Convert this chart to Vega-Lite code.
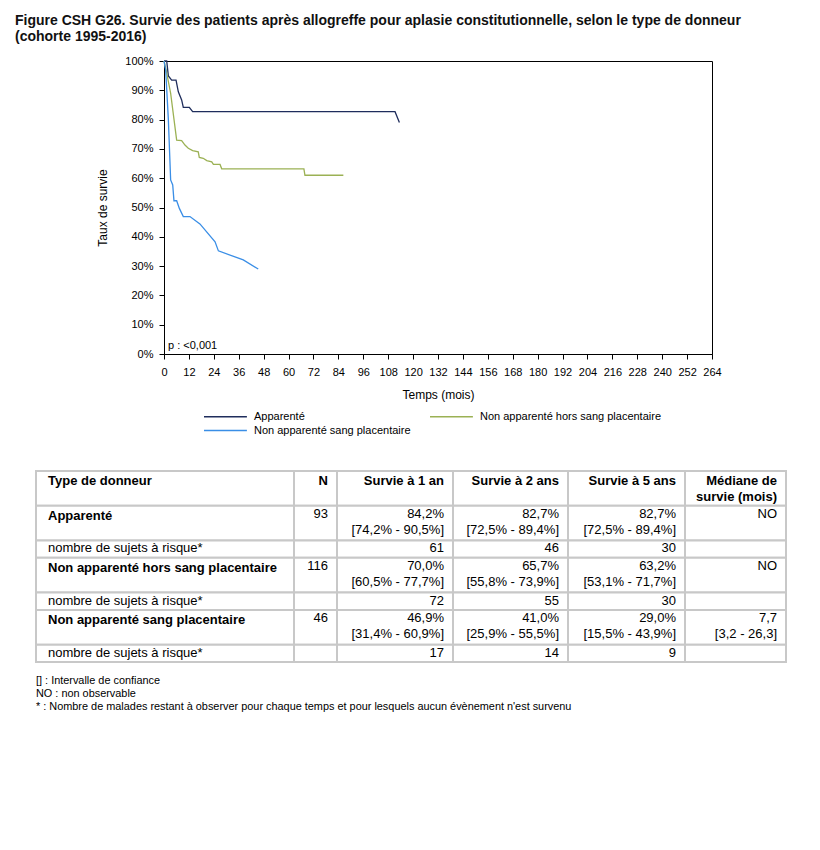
{
  "$schema": "https://vega.github.io/schema/vega-lite/v6.json",
  "padding": {"left": 15, "top": 13, "right": 5, "bottom": 5},
  "background": "white",
  "title": {
    "text": ["Figure CSH G26. Survie des patients après allogreffe pour aplasie constitutionnelle, selon le type de donneur", "(cohorte 1995-2016)"],
    "anchor": "start", "dx": -20, "fontSize": 14, "fontWeight": "bold", "color": "#111", "offset": 11, "lineHeight": 16, "font": "Liberation Sans"
  },
  "config": {
    "view": {"stroke": null},
    "font": "Liberation Sans",
    "axis": {"domainColor": "#000", "tickColor": "#000", "labelColor": "#000", "titleColor": "#000", "labelFontSize": 11, "titleFontSize": 12, "titleFontWeight": "normal", "grid": false, "tickSize": 5}
  },
  "datasets": {
    "km": [
      {"groupe": "Apparenté", "t": 0, "s": 1},
      {"groupe": "Apparenté", "t": 1.3, "s": 1},
      {"groupe": "Apparenté", "t": 2.1, "s": 0.949},
      {"groupe": "Apparenté", "t": 3.7, "s": 0.935},
      {"groupe": "Apparenté", "t": 5.8, "s": 0.935},
      {"groupe": "Apparenté", "t": 6.9, "s": 0.895},
      {"groupe": "Apparenté", "t": 8.5, "s": 0.867},
      {"groupe": "Apparenté", "t": 9.3, "s": 0.842},
      {"groupe": "Apparenté", "t": 12.2, "s": 0.842},
      {"groupe": "Apparenté", "t": 13.8, "s": 0.827},
      {"groupe": "Apparenté", "t": 111.3, "s": 0.827},
      {"groupe": "Apparenté", "t": 113.4, "s": 0.79},
      {"groupe": "Non apparenté hors sang placentaire", "t": 0, "s": 1},
      {"groupe": "Non apparenté hors sang placentaire", "t": 1, "s": 0.97},
      {"groupe": "Non apparenté hors sang placentaire", "t": 3.2, "s": 0.89},
      {"groupe": "Non apparenté hors sang placentaire", "t": 6.1, "s": 0.73},
      {"groupe": "Non apparenté hors sang placentaire", "t": 8.5, "s": 0.728},
      {"groupe": "Non apparenté hors sang placentaire", "t": 10.1, "s": 0.713},
      {"groupe": "Non apparenté hors sang placentaire", "t": 11.7, "s": 0.702},
      {"groupe": "Non apparenté hors sang placentaire", "t": 13.8, "s": 0.694},
      {"groupe": "Non apparenté hors sang placentaire", "t": 16.5, "s": 0.69},
      {"groupe": "Non apparenté hors sang placentaire", "t": 17, "s": 0.671},
      {"groupe": "Non apparenté hors sang placentaire", "t": 18.9, "s": 0.668},
      {"groupe": "Non apparenté hors sang placentaire", "t": 20.6, "s": 0.66},
      {"groupe": "Non apparenté hors sang placentaire", "t": 23, "s": 0.656},
      {"groupe": "Non apparenté hors sang placentaire", "t": 23.8, "s": 0.647},
      {"groupe": "Non apparenté hors sang placentaire", "t": 27, "s": 0.647},
      {"groupe": "Non apparenté hors sang placentaire", "t": 27.8, "s": 0.632},
      {"groupe": "Non apparenté hors sang placentaire", "t": 67.4, "s": 0.632},
      {"groupe": "Non apparenté hors sang placentaire", "t": 67.9, "s": 0.61},
      {"groupe": "Non apparenté hors sang placentaire", "t": 86.4, "s": 0.61},
      {"groupe": "Non apparenté sang placentaire", "t": 0, "s": 1},
      {"groupe": "Non apparenté sang placentaire", "t": 0.8, "s": 0.97},
      {"groupe": "Non apparenté sang placentaire", "t": 2.1, "s": 0.8},
      {"groupe": "Non apparenté sang placentaire", "t": 3.2, "s": 0.594},
      {"groupe": "Non apparenté sang placentaire", "t": 4.2, "s": 0.577},
      {"groupe": "Non apparenté sang placentaire", "t": 4.8, "s": 0.523},
      {"groupe": "Non apparenté sang placentaire", "t": 6.1, "s": 0.523},
      {"groupe": "Non apparenté sang placentaire", "t": 7.4, "s": 0.497},
      {"groupe": "Non apparenté sang placentaire", "t": 9.3, "s": 0.469},
      {"groupe": "Non apparenté sang placentaire", "t": 12.5, "s": 0.469},
      {"groupe": "Non apparenté sang placentaire", "t": 17.3, "s": 0.444},
      {"groupe": "Non apparenté sang placentaire", "t": 24.6, "s": 0.383},
      {"groupe": "Non apparenté sang placentaire", "t": 26.2, "s": 0.352},
      {"groupe": "Non apparenté sang placentaire", "t": 38.2, "s": 0.321},
      {"groupe": "Non apparenté sang placentaire", "t": 45.4, "s": 0.29}
    ],
    "table": [
      {"col": "type", "top": 0, "bottom": 2, "kind": "header", "text": "Type de donneur"},
      {"col": "n", "top": 0, "bottom": 2, "kind": "header", "text": "N"},
      {"col": "s1", "top": 0, "bottom": 2, "kind": "header", "text": "Survie à 1 an"},
      {"col": "s2", "top": 0, "bottom": 2, "kind": "header", "text": "Survie à 2 ans"},
      {"col": "s5", "top": 0, "bottom": 2, "kind": "header", "text": "Survie à 5 ans"},
      {"col": "med", "top": 0, "bottom": 2, "kind": "header", "text": "Médiane de\nsurvie (mois)"},
      {"col": "type", "top": 2, "bottom": 4, "kind": "group", "text": "Apparenté"},
      {"col": "n", "top": 2, "bottom": 4, "kind": "group", "text": "93"},
      {"col": "s1", "top": 2, "bottom": 4, "kind": "group", "text": "84,2%\n[74,2% - 90,5%]"},
      {"col": "s2", "top": 2, "bottom": 4, "kind": "group", "text": "82,7%\n[72,5% - 89,4%]"},
      {"col": "s5", "top": 2, "bottom": 4, "kind": "group", "text": "82,7%\n[72,5% - 89,4%]"},
      {"col": "med", "top": 2, "bottom": 4, "kind": "group", "text": "NO"},
      {"col": "type", "top": 4, "bottom": 5, "kind": "risk", "text": "nombre de sujets à risque*"},
      {"col": "n", "top": 4, "bottom": 5, "kind": "risk", "text": ""},
      {"col": "s1", "top": 4, "bottom": 5, "kind": "risk", "text": "61"},
      {"col": "s2", "top": 4, "bottom": 5, "kind": "risk", "text": "46"},
      {"col": "s5", "top": 4, "bottom": 5, "kind": "risk", "text": "30"},
      {"col": "med", "top": 4, "bottom": 5, "kind": "risk", "text": ""},
      {"col": "type", "top": 5, "bottom": 7, "kind": "group", "text": "Non apparenté hors sang placentaire"},
      {"col": "n", "top": 5, "bottom": 7, "kind": "group", "text": "116"},
      {"col": "s1", "top": 5, "bottom": 7, "kind": "group", "text": "70,0%\n[60,5% - 77,7%]"},
      {"col": "s2", "top": 5, "bottom": 7, "kind": "group", "text": "65,7%\n[55,8% - 73,9%]"},
      {"col": "s5", "top": 5, "bottom": 7, "kind": "group", "text": "63,2%\n[53,1% - 71,7%]"},
      {"col": "med", "top": 5, "bottom": 7, "kind": "group", "text": "NO"},
      {"col": "type", "top": 7, "bottom": 8, "kind": "risk", "text": "nombre de sujets à risque*"},
      {"col": "n", "top": 7, "bottom": 8, "kind": "risk", "text": ""},
      {"col": "s1", "top": 7, "bottom": 8, "kind": "risk", "text": "72"},
      {"col": "s2", "top": 7, "bottom": 8, "kind": "risk", "text": "55"},
      {"col": "s5", "top": 7, "bottom": 8, "kind": "risk", "text": "30"},
      {"col": "med", "top": 7, "bottom": 8, "kind": "risk", "text": ""},
      {"col": "type", "top": 8, "bottom": 10, "kind": "group", "text": "Non apparenté sang placentaire"},
      {"col": "n", "top": 8, "bottom": 10, "kind": "group", "text": "46"},
      {"col": "s1", "top": 8, "bottom": 10, "kind": "group", "text": "46,9%\n[31,4% - 60,9%]"},
      {"col": "s2", "top": 8, "bottom": 10, "kind": "group", "text": "41,0%\n[25,9% - 55,5%]"},
      {"col": "s5", "top": 8, "bottom": 10, "kind": "group", "text": "29,0%\n[15,5% - 43,9%]"},
      {"col": "med", "top": 8, "bottom": 10, "kind": "group", "text": "7,7\n[3,2 - 26,3]"},
      {"col": "type", "top": 10, "bottom": 11, "kind": "risk", "text": "nombre de sujets à risque*"},
      {"col": "n", "top": 10, "bottom": 11, "kind": "risk", "text": ""},
      {"col": "s1", "top": 10, "bottom": 11, "kind": "risk", "text": "17"},
      {"col": "s2", "top": 10, "bottom": 11, "kind": "risk", "text": "14"},
      {"col": "s5", "top": 10, "bottom": 11, "kind": "risk", "text": "9"},
      {"col": "med", "top": 10, "bottom": 11, "kind": "risk", "text": ""}
    ],
    "notes": [
      {"line": 1, "text": "[] : Intervalle de confiance"},
      {"line": 2, "text": "NO : non observable"},
      {"line": 3, "text": "* : Nombre de malades restant à observer pour chaque temps et pour lesquels aucun évènement n'est survenu"}
    ]
  },
  "spacing": 69,
  "vconcat": [
    {
      "spacing": 0,
      "hconcat": [
        {"width": 60, "height": 10, "data": {"values": []}, "mark": "point"},
        {
          "width": 548,
          "height": 293,
          "view": {"stroke": "#000", "strokeWidth": 1},
          "layer": [
            {
              "data": {"name": "km"},
              "mark": {"type": "line", "strokeWidth": 1.3},
              "encoding": {
                "x": {"field": "t", "type": "quantitative", "scale": {"domain": [0, 264], "nice": false},
                  "axis": {"values": [0,12,24,36,48,60,72,84,96,108,120,132,144,156,168,180,192,204,216,228,240,252,264], "title": "Temps (mois)", "labelPadding": 7, "titlePadding": 12, "labelFlush": false, "labelOverlap": false}},
                "y": {"field": "s", "type": "quantitative", "scale": {"domain": [0, 1], "nice": false},
                  "axis": {"values": [0,0.1,0.2,0.3,0.4,0.5,0.6,0.7,0.8,0.9,1], "format": ".0%", "title": "Taux de survie", "labelPadding": 6, "titlePadding": 15, "labelFlush": false}},
                "color": {"field": "groupe", "type": "nominal",
                  "scale": {"domain": ["Apparenté", "Non apparenté hors sang placentaire", "Non apparenté sang placentaire"], "range": ["#1f2d5c", "#9bb154", "#3a8ee6"]},
                  "legend": {"title": null, "orient": "none", "legendX": 167, "legendY": 349, "direction": "horizontal", "columns": 2, "columnPadding": 16, "rowPadding": 2, "symbolType": "M-1,0H6.8", "symbolSize": 121, "symbolStrokeWidth": 1.5, "labelFontSize": 11, "labelColor": "#000", "labelOffset": 38, "labelLimit": 300}}
              }
            },
            {
              "data": {"values": [{"label": "p : <0,001"}]},
              "mark": {"type": "text", "align": "left", "baseline": "bottom", "fontSize": 11, "color": "#000", "dx": 4, "dy": -3},
              "encoding": {"text": {"field": "label"}, "x": {"value": 0}, "y": {"value": "height"}}
            }
          ]
        }
      ]
    },
    {
      "spacing": 11,
      "vconcat": [
        {
          "spacing": 0,
          "bounds": "flush",
          "data": {"name": "table"},
          "hconcat": [
            {
              "width": 258, "height": 191,
              "transform": [{"filter": "datum.col == 'type'"}],
              "encoding": {"y": {"field": "top", "type": "quantitative", "scale": {"domain": [0, 11], "reverse": true, "nice": false}, "axis": null}},
              "layer": [
                {"mark": {"type": "rect", "fill": "white", "stroke": "#c8c8c8", "strokeWidth": 2}, "encoding": {"y2": {"field": "bottom"}, "x": {"value": 0}, "x2": {"value": "width"}}},
                {"transform": [{"filter": "datum.kind != 'risk'"}], "mark": {"type": "text", "align": "left", "baseline": "top", "dy": 4, "fontSize": 13, "fontWeight": "bold", "lineBreak": "\n", "lineHeight": 16, "color": "#000"}, "encoding": {"x": {"value": 12}, "text": {"field": "text"}}},
                {"transform": [{"filter": "datum.kind == 'risk'"}], "mark": {"type": "text", "align": "left", "baseline": "top", "dy": 2, "fontSize": 13, "lineBreak": "\n", "lineHeight": 16, "color": "#000"}, "encoding": {"x": {"value": 12}, "text": {"field": "text"}}}
              ]
            },
            {
              "width": 43, "height": 191,
              "transform": [{"filter": "datum.col == 'n'"}],
              "encoding": {"y": {"field": "top", "type": "quantitative", "scale": {"domain": [0, 11], "reverse": true, "nice": false}, "axis": null}},
              "layer": [
                {"mark": {"type": "rect", "fill": "white", "stroke": "#c8c8c8", "strokeWidth": 2}, "encoding": {"y2": {"field": "bottom"}, "x": {"value": 0}, "x2": {"value": "width"}}},
                {"transform": [{"filter": "datum.kind == 'header'"}], "mark": {"type": "text", "align": "right", "baseline": "top", "dy": 4, "dx": -9, "fontSize": 13, "fontWeight": "bold", "lineBreak": "\n", "lineHeight": 16, "color": "#000"}, "encoding": {"x": {"value": "width"}, "text": {"field": "text"}}},
                {"transform": [{"filter": "datum.kind != 'header'"}], "mark": {"type": "text", "align": "right", "baseline": "top", "dy": 2, "dx": -9, "fontSize": 13, "lineBreak": "\n", "lineHeight": 16, "color": "#000"}, "encoding": {"x": {"value": "width"}, "text": {"field": "text"}}}
              ]
            },
            {
              "width": 116, "height": 191,
              "transform": [{"filter": "datum.col == 's1'"}],
              "encoding": {"y": {"field": "top", "type": "quantitative", "scale": {"domain": [0, 11], "reverse": true, "nice": false}, "axis": null}},
              "layer": [
                {"mark": {"type": "rect", "fill": "white", "stroke": "#c8c8c8", "strokeWidth": 2}, "encoding": {"y2": {"field": "bottom"}, "x": {"value": 0}, "x2": {"value": "width"}}},
                {"transform": [{"filter": "datum.kind == 'header'"}], "mark": {"type": "text", "align": "right", "baseline": "top", "dy": 4, "dx": -9, "fontSize": 13, "fontWeight": "bold", "lineBreak": "\n", "lineHeight": 16, "color": "#000"}, "encoding": {"x": {"value": "width"}, "text": {"field": "text"}}},
                {"transform": [{"filter": "datum.kind != 'header'"}], "mark": {"type": "text", "align": "right", "baseline": "top", "dy": 2, "dx": -9, "fontSize": 13, "lineBreak": "\n", "lineHeight": 16, "color": "#000"}, "encoding": {"x": {"value": "width"}, "text": {"field": "text"}}}
              ]
            },
            {
              "width": 115, "height": 191,
              "transform": [{"filter": "datum.col == 's2'"}],
              "encoding": {"y": {"field": "top", "type": "quantitative", "scale": {"domain": [0, 11], "reverse": true, "nice": false}, "axis": null}},
              "layer": [
                {"mark": {"type": "rect", "fill": "white", "stroke": "#c8c8c8", "strokeWidth": 2}, "encoding": {"y2": {"field": "bottom"}, "x": {"value": 0}, "x2": {"value": "width"}}},
                {"transform": [{"filter": "datum.kind == 'header'"}], "mark": {"type": "text", "align": "right", "baseline": "top", "dy": 4, "dx": -9, "fontSize": 13, "fontWeight": "bold", "lineBreak": "\n", "lineHeight": 16, "color": "#000"}, "encoding": {"x": {"value": "width"}, "text": {"field": "text"}}},
                {"transform": [{"filter": "datum.kind != 'header'"}], "mark": {"type": "text", "align": "right", "baseline": "top", "dy": 2, "dx": -9, "fontSize": 13, "lineBreak": "\n", "lineHeight": 16, "color": "#000"}, "encoding": {"x": {"value": "width"}, "text": {"field": "text"}}}
              ]
            },
            {
              "width": 117, "height": 191,
              "transform": [{"filter": "datum.col == 's5'"}],
              "encoding": {"y": {"field": "top", "type": "quantitative", "scale": {"domain": [0, 11], "reverse": true, "nice": false}, "axis": null}},
              "layer": [
                {"mark": {"type": "rect", "fill": "white", "stroke": "#c8c8c8", "strokeWidth": 2}, "encoding": {"y2": {"field": "bottom"}, "x": {"value": 0}, "x2": {"value": "width"}}},
                {"transform": [{"filter": "datum.kind == 'header'"}], "mark": {"type": "text", "align": "right", "baseline": "top", "dy": 4, "dx": -9, "fontSize": 13, "fontWeight": "bold", "lineBreak": "\n", "lineHeight": 16, "color": "#000"}, "encoding": {"x": {"value": "width"}, "text": {"field": "text"}}},
                {"transform": [{"filter": "datum.kind != 'header'"}], "mark": {"type": "text", "align": "right", "baseline": "top", "dy": 2, "dx": -9, "fontSize": 13, "lineBreak": "\n", "lineHeight": 16, "color": "#000"}, "encoding": {"x": {"value": "width"}, "text": {"field": "text"}}}
              ]
            },
            {
              "width": 101, "height": 191,
              "transform": [{"filter": "datum.col == 'med'"}],
              "encoding": {"y": {"field": "top", "type": "quantitative", "scale": {"domain": [0, 11], "reverse": true, "nice": false}, "axis": null}},
              "layer": [
                {"mark": {"type": "rect", "fill": "white", "stroke": "#c8c8c8", "strokeWidth": 2}, "encoding": {"y2": {"field": "bottom"}, "x": {"value": 0}, "x2": {"value": "width"}}},
                {"transform": [{"filter": "datum.kind == 'header'"}], "mark": {"type": "text", "align": "right", "baseline": "top", "dy": 4, "dx": -9, "fontSize": 13, "fontWeight": "bold", "lineBreak": "\n", "lineHeight": 16, "color": "#000"}, "encoding": {"x": {"value": "width"}, "text": {"field": "text"}}},
                {"transform": [{"filter": "datum.kind != 'header'"}], "mark": {"type": "text", "align": "right", "baseline": "top", "dy": 2, "dx": -9, "fontSize": 13, "lineBreak": "\n", "lineHeight": 16, "color": "#000"}, "encoding": {"x": {"value": "width"}, "text": {"field": "text"}}}
              ]
            }
          ]
        },
        {
          "width": 750, "height": 39,
          "data": {"name": "notes"},
          "mark": {"type": "text", "align": "left", "baseline": "middle", "fontSize": 10.9, "color": "#000"},
          "encoding": {
            "y": {"field": "line", "type": "ordinal", "axis": null},
            "x": {"value": 0},
            "text": {"field": "text"}
          }
        }
      ]
    }
  ]
}
